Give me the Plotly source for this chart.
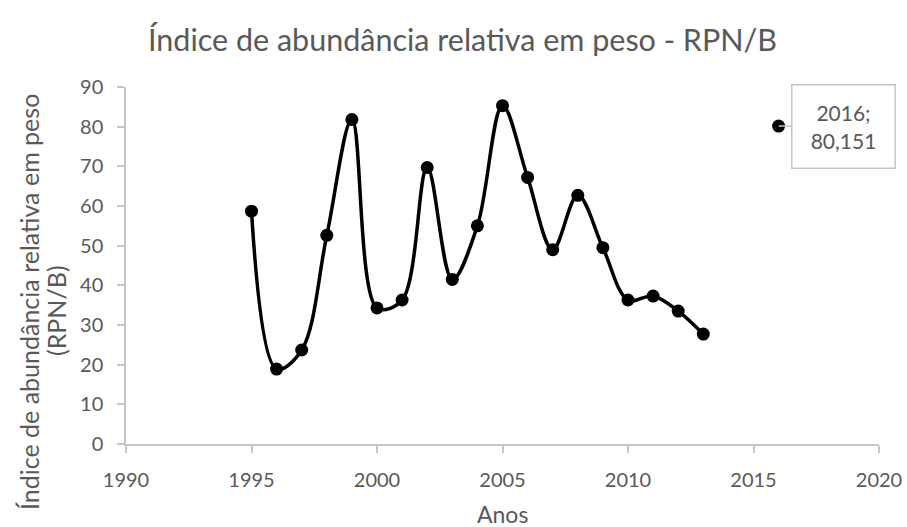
import plotly.graph_objects as go

# DATA
years = [1995, 1996, 1997, 1998, 1999, 2000, 2001, 2002, 2003, 2004,
         2005, 2006, 2007, 2008, 2009, 2010, 2011, 2012, 2013, 2014, 2015, 2016]
rpn_b = [58.7, 18.9, 23.7, 52.6, 81.8, 34.3, 36.3, 69.7, 41.5, 55.0,
         85.3, 67.2, 49.0, 62.7, 49.5, 36.3, 37.3, 33.5, 27.7, None, None, 80.151]

label_year = 2016
label_value = 80.151

GREY_TEXT = '#595959'
AXIS_GREY = '#C6C6C6'
FONT = 'Lato, sans-serif'

fig = go.Figure()

fig.add_trace(go.Scatter(
    x=years,
    y=rpn_b,
    mode='lines+markers',
    line=dict(color='black', width=3.5, shape='spline', smoothing=1),
    marker=dict(color='black', size=13),
    connectgaps=False,
    showlegend=False
))

# data label callout
fig.add_annotation(
    x=label_year, y=label_value,
    text=f'{label_year};<br>{label_value:.3f}'.replace('.', ','),
    showarrow=True, arrowhead=0, arrowcolor=AXIS_GREY, arrowwidth=1.5,
    ax=65, ay=0,
    font=dict(size=21, color=GREY_TEXT, family=FONT),
    bordercolor=AXIS_GREY, borderwidth=1.5, borderpad=3,
    width=96, height=76,
    bgcolor='white', align='center'
)

# axis titles (two y lines placed separately for tighter line spacing)
fig.add_annotation(
    text='Índice de abundância relativa em peso',
    xref='paper', yref='paper', x=0, y=(444 - 302) / 357,
    xanchor='center', yanchor='middle', xshift=-97,
    textangle=-90, showarrow=False,
    font=dict(size=25, color=GREY_TEXT, family=FONT)
)
fig.add_annotation(
    text='(RPN/B)',
    xref='paper', yref='paper', x=0, y=(444 - 311) / 357,
    xanchor='center', yanchor='middle', xshift=-70,
    textangle=-90, showarrow=False,
    font=dict(size=25, color=GREY_TEXT, family=FONT)
)
fig.add_annotation(
    text='Anos',
    xref='paper', yref='paper', x=0.5, y=0,
    xanchor='center', yanchor='middle', yshift=-70,
    showarrow=False,
    font=dict(size=23, color=GREY_TEXT, family=FONT)
)

fig.update_layout(
    width=907, height=527,
    paper_bgcolor='white',
    plot_bgcolor='white',
    font=dict(family=FONT, color=GREY_TEXT, size=20),
    margin=dict(l=126, r=28, t=87, b=83),
    title=dict(text='Índice de abundância relativa em peso - RPN/B',
               x=0.51, xanchor='center', xref='container',
               y=1 - 40 / 527, yanchor='middle',
               font=dict(size=30.5, color=GREY_TEXT, family=FONT)),
    xaxis=dict(range=[1990, 2020], tickvals=[1990, 1995, 2000, 2005, 2010, 2015, 2020],
               showgrid=False, zeroline=False, showline=True, linecolor=AXIS_GREY, linewidth=1.5,
               ticks='outside', tickcolor=AXIS_GREY, ticklen=7, tickwidth=1.5,
               ticklabelstandoff=10, automargin=False),
    yaxis=dict(range=[0, 90], tickvals=list(range(0, 91, 10)),
               showgrid=False, zeroline=False, showline=True, linecolor=AXIS_GREY, linewidth=1.5,
               ticks='outside', tickcolor=AXIS_GREY, ticklen=7, tickwidth=1.5,
               ticklabelstandoff=10, automargin=False),
)

fig.write_html('out.html', config={'displayModeBar': False},
               post_script="document.body.style.margin='0';")
